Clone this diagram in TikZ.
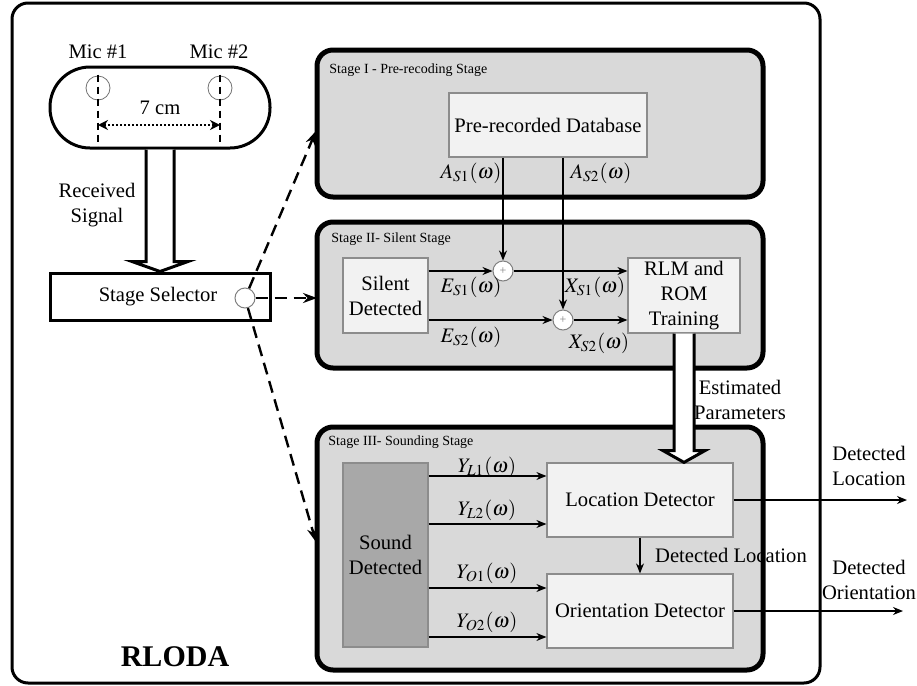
\documentclass[tikz,border=0pt]{standalone}
\usepackage{mathptmx}
\usepackage{fontspec}
\setmainfont{Liberation Serif}
\usetikzlibrary{arrows.meta,calc}
\begin{document}
\begin{tikzpicture}[x=0.5pt,y=-0.5pt,
  every node/.style={font=\fontsize{10.3}{12.5}\selectfont},
  arr/.style={-{Stealth[length=5pt,width=4pt]}, line width=0.65pt},
  dasharr/.style={-{Stealth[length=7pt,width=5pt]}, line width=1.2pt, dash pattern=on 6pt off 3.5pt},
  stagebox/.style={draw, fill=black!15, line width=2.5pt, rounded corners=8pt, minimum width=223pt, inner sep=0},
  inbox/.style={draw=black!45, fill=black!5, line width=0.6pt, align=center, inner sep=0},
  stagelbl/.style={font=\fontsize{7}{8}\selectfont, anchor=west, inner sep=0},
  sumnode/.style={circle, draw=black!50, fill=white, line width=0.5pt, minimum size=10pt, inner sep=0, font=\fontsize{6}{6}\selectfont, text=black!50},
  mlbl/.style={inner sep=0},
  hollow/.style={draw, fill=white, line width=1.5pt, line join=miter},
  txt/.style={align=center, inner sep=0}
]
\useasboundingbox (0,0) rectangle (917,686);

% outer frame
\node[draw, line width=1.5pt, rounded corners=8pt, minimum width=404pt, minimum height=340pt, inner sep=0] (outer) at (416,343) {};

% stages
\node[stagebox, minimum height=73.5pt] (st1) at (540,123.5) {};
\node[stagebox, minimum height=73pt] (st2) at (540,295) {};
\node[stagebox, minimum height=121.5pt] (st3) at (540,548.5) {};
\node[stagelbl] (st1l) at (329,70) {Stage I - Pre-recoding Stage};
\node[stagelbl] (st2l) at (331,239) {Stage II- Silent Stage};
\node[stagelbl] (st3l) at (328,442) {Stage III- Sounding Stage};

% microphone body
\node[draw, line width=1.5pt, rounded corners=20pt, minimum width=110pt, minimum height=40.5pt, inner sep=0] (mic) at (160,107.5) {};
\node[txt] (m1l) at (98,52) {Mic \#1};
\node[txt] (m2l) at (219,52) {Mic \#2};
\node[circle, draw=black!55, line width=0.4pt, minimum size=12pt, inner sep=0] (m1) at (98,88) {};
\node[circle, draw=black!55, line width=0.4pt, minimum size=12pt, inner sep=0] (m2) at (220,88) {};
\coordinate (m1b) at (98,148);
\coordinate (m2b) at (220,148);
\draw[line width=1pt, dash pattern=on 3.5pt off 2.5pt] ($(m1.north)+(0,-1)$) -- (m1b);
\draw[line width=1pt, dash pattern=on 3.5pt off 2.5pt] ($(m2.north)+(0,-1)$) -- (m2b);
\coordinate (d1) at (98,125);
\coordinate (d2) at (220,125);
\draw[line width=1pt, densely dotted, {Stealth[length=5pt,width=5pt]}-{Stealth[length=5pt,width=5pt]}] (d1) -- (d2);
\node[txt] (cm) at (160,108) {7 cm};

% stage selector
\node[draw, line width=1.5pt, minimum width=110pt, minimum height=23.5pt, inner sep=0] (sel) at (160,296.5) {};
\node[txt] (sellbl) at (158,297) {Stage Selector};
\node[circle, draw=black!50, fill=white, line width=0.5pt, minimum size=10pt, inner sep=0] (sw) at (245,298) {};

% received signal hollow arrow
\draw[hollow] ($(mic.south)+(-14,0)$) -- ($(mic.south)+(-14,112)$) -- ($(mic.south)+(-28,112)$)
  -- (sel.north) -- ($(mic.south)+(28,112)$) -- ($(mic.south)+(14,112)$) -- ($(mic.south)+(14,0)$);
\node[txt] (rs) at (97,205) {Received\\Signal};

% dashed selector arrows
\coordinate (in1) at (316,131);
\coordinate (in2) at (317,298);
\coordinate (in3) at (316,542);
\draw[dasharr] (sw) -- (in1);
\draw[dasharr] (sw) -- (in2);
\draw[dasharr] (sw) -- (in3);

% stage I
\node[inbox, minimum width=99pt, minimum height=32pt] (db) at (548,125) {Pre-recorded Database};

% stage II
\node[inbox, minimum width=42.5pt, minimum height=37.5pt] (sil) at (385.5,295.5) {Silent\\Detected};
\node[inbox, minimum width=56pt, minimum height=37.5pt] (rlm) at (684,295.5) {RLM and\\ROM\\Training};
\node[sumnode] (p1) at (503,271) {+};
\node[sumnode] (p2) at (563,320) {+};
\draw[arr] (db.south -| p1) -- (p1.north);
\draw[arr] (db.south -| p2) -- (p2.north);
\draw[arr] (sil.east |- p1) -- (p1.west);
\draw[arr] (sil.east |- p2) -- (p2.west);
\draw[arr] (p1.east) -- (p1 -| rlm.west);
\draw[arr] (p2.east) -- (p2 -| rlm.west);
\node[mlbl] (la1) at (471,173) {$A_{S1}(\omega)$};
\node[mlbl] (la2) at (601,173) {$A_{S2}(\omega)$};
\node[mlbl] (le1) at (471,287) {$E_{S1}(\omega)$};
\node[mlbl] (le2) at (471,337) {$E_{S2}(\omega)$};
\node[mlbl] (lx1) at (595,287) {$X_{S1}(\omega)$};
\node[mlbl] (lx2) at (599,343) {$X_{S2}(\omega)$};

% stage III
\node[inbox, fill=black!34, minimum width=42.5pt, minimum height=92pt] (snd) at (385.5,555) {Sound\\Detected};
\node[inbox, minimum width=93pt, minimum height=37pt] (loc) at (640,500) {Location Detector};
\node[inbox, minimum width=93pt, minimum height=37pt] (ori) at (640,611) {Orientation Detector};
\coordinate (yl1) at (0,476);
\coordinate (yl2) at (0,524);
\coordinate (yo1) at (0,588);
\coordinate (yo2) at (0,637);
\draw[arr] (snd.east |- yl1) -- (loc.west |- yl1);
\draw[arr] (snd.east |- yl2) -- (loc.west |- yl2);
\draw[arr] (snd.east |- yo1) -- (ori.west |- yo1);
\draw[arr] (snd.east |- yo2) -- (ori.west |- yo2);
\node[mlbl] (ly1) at (487,467) {$Y_{L1}(\omega)$};
\node[mlbl] (ly2) at (487,510) {$Y_{L2}(\omega)$};
\node[mlbl] (ly3) at (487,573) {$Y_{O1}(\omega)$};
\node[mlbl] (ly4) at (487,622) {$Y_{O2}(\omega)$};
\draw[arr] (loc.south) -- (ori.north);
\node[txt] (dl) at (731,555) {Detected Location};

% estimated parameters hollow arrow
\draw[hollow] ($(rlm.south)+(-10,0)$) -- ($(rlm.south)+(-10,117)$) -- ($(rlm.south)+(-21,117)$)
  -- (rlm.south |- loc.north) -- ($(rlm.south)+(21,117)$) -- ($(rlm.south)+(10,117)$) -- ($(rlm.south)+(10,0)$);
\node[txt] (ep) at (740,400) {Estimated\\Parameters};

% outputs
\coordinate (o1) at (907,500);
\coordinate (o2) at (903,611);
\draw[arr] (loc.east) -- (o1);
\draw[arr] (ori.east) -- (o2);
\node[txt] (ol1) at (869,466) {Detected\\Location};
\node[txt] (ol2) at (869,580) {Detected\\Orientation};

\node[font=\fontsize{15}{18}\selectfont\bfseries, inner sep=0] (rloda) at (175,657) {RLODA};
\end{tikzpicture}
\end{document}
